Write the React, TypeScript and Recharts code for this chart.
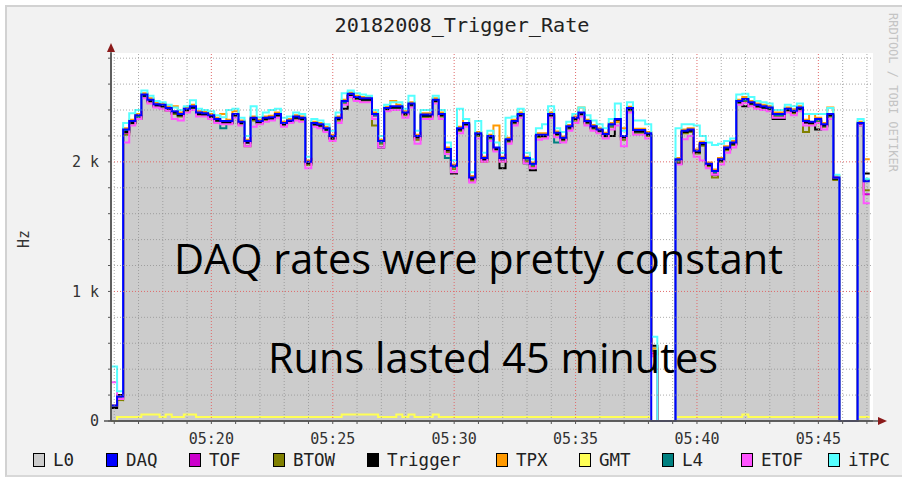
import React from "react";
import { ComposedChart, Area, Line, XAxis, YAxis, ReferenceLine, CartesianGrid } from "recharts";

// ---------- data (RRD samples, 15 s step) ----------
const startTime = "05:15:52";
const endTime = "05:47:15";
const stepSeconds = 15;

const l0 = [
  100, 150, 2250, 2315, 2360, 2520, 2480, 2445, 2440, 2415,
  2390, 2370, 2410, 2430, 2380, 2375, 2360, 2330, 2315, 2315,
  2370, 2310, 2160, 2340, 2315, 2340, 2345, 2370, 2300, 2320,
  2350, 2340, 2000, 2300, 2290, 2260, 2200, 2340, 2470, 2525,
  2500, 2490, 2490, 2370, 2160, 2415, 2430, 2430, 2380, 2450,
  2200, 2365, 2365, 2480, 2370, 2100, 1970, 2260, 2300, 1880,
  2220, 2030, 2200, 2110, 2030, 2175, 2315, 2370, 2030, 1985,
  2210, 2210, 2370, 2225, 2185, 2275, 2340, 2380, 2315, 2275,
  2250, 2215, 2290, 2330, 2200, 2415, 2245, 2245, 2220, 0,
  0, 0, 0, 2020, 2240, 2250, 2085, 2145, 1985, 1930,
  2020, 2110, 2150, 2470, 2485, 2460, 2440, 2430, 2420, 2370,
  2370, 2410, 2395, 2420, 2315, 2310, 2330, 2290, 2370, 1880,
  0, 0, 0, 2300, 1850, 1850,
];
const daq = [
  120, 190, 2250, 2315, 2360, 2520, 2480, 2445, 2440, 2415,
  2390, 2370, 2410, 2430, 2380, 2375, 2360, 2330, 2315, 2315,
  2370, 2310, 2160, 2340, 2315, 2340, 2345, 2370, 2300, 2320,
  2350, 2340, 2000, 2300, 2290, 2260, 2200, 2340, 2470, 2525,
  2500, 2490, 2490, 2370, 2160, 2415, 2430, 2430, 2380, 2450,
  2200, 2365, 2365, 2480, 2370, 2100, 1970, 2260, 2300, 1880,
  2220, 2030, 2200, 2110, 2030, 2175, 2315, 2370, 2030, 1985,
  2210, 2210, 2370, 2225, 2185, 2275, 2340, 2380, 2315, 2275,
  2250, 2215, 2290, 2330, 2200, 2415, 2245, 2245, 2220, 0,
  0, 0, 0, 2020, 2240, 2250, 2085, 2145, 1985, 1930,
  2020, 2110, 2150, 2470, 2485, 2460, 2440, 2430, 2420, 2370,
  2370, 2410, 2395, 2420, 2315, 2310, 2330, 2290, 2370, 1880,
  0, 0, 0, 2300, 1850, 1850,
];
const tof = [
  110, 170, 2220, 2300, 2345, 2505, 2465, 2430, 2425, 2400,
  2370, 2355, 2395, 2415, 2365, 2360, 2345, 2315, 2300, 2300,
  2355, 2295, 2145, 2325, 2300, 2325, 2330, 2355, 2285, 2305,
  2335, 2325, 1980, 2285, 2275, 2245, 2185, 2325, 2455, 2510,
  2485, 2475, 2475, 2355, 2145, 2400, 2415, 2415, 2365, 2435,
  2175, 2350, 2350, 2465, 2355, 2080, 1950, 2245, 2285, 1860,
  2205, 2015, 2185, 2095, 2015, 2160, 2300, 2355, 2015, 1970,
  2195, 2195, 2355, 2210, 2170, 2260, 2325, 2365, 2300, 2260,
  2235, 2200, 2275, 2315, 2175, 2400, 2230, 2230, 2205, 520,
  0, 0, 0, 2000, 2225, 2235, 2070, 2130, 1970, 1915,
  2005, 2095, 2135, 2455, 2470, 2445, 2425, 2415, 2405, 2355,
  2355, 2395, 2380, 2405, 2300, 2295, 2315, 2275, 2355, 1870,
  0, 0, 0, 2285, 1750, 1750,
];
const btow = [
  100, 160, 2210, 2295, 2340, 2500, 2460, 2425, 2420, 2395,
  2370, 2350, 2390, 2410, 2360, 2355, 2340, 2310, 2295, 2295,
  2350, 2290, 2120, 2320, 2295, 2320, 2325, 2350, 2280, 2300,
  2330, 2320, 1975, 2280, 2270, 2240, 2180, 2320, 2450, 2505,
  2480, 2470, 2470, 2280, 2140, 2395, 2410, 2410, 2360, 2430,
  2170, 2345, 2345, 2460, 2350, 2075, 1945, 2240, 2280, 1855,
  2200, 2000, 2180, 2090, 2000, 2155, 2295, 2350, 2005, 1960,
  2190, 2190, 2350, 2205, 2165, 2255, 2320, 2360, 2295, 2255,
  2230, 2195, 2270, 2310, 2170, 2395, 2225, 2225, 2200, 540,
  0, 0, 0, 1995, 2220, 2230, 2065, 2125, 1965, 1880,
  2000, 2090, 2130, 2450, 2465, 2440, 2420, 2410, 2400, 2350,
  2350, 2390, 2375, 2400, 2230, 2290, 2310, 2270, 2350, 1860,
  0, 0, 0, 2280, 1780, 1780,
];
const trigger = [
  100, 200, 2230, 2300, 2330, 2510, 2470, 2435, 2430, 2405,
  2380, 2360, 2400, 2420, 2370, 2365, 2350, 2320, 2300, 2300,
  2360, 2300, 2150, 2330, 2305, 2330, 2335, 2360, 2290, 2310,
  2340, 2330, 1990, 2290, 2280, 2250, 2180, 2330, 2410, 2510,
  2490, 2480, 2480, 2330, 2110, 2405, 2420, 2420, 2370, 2440,
  2190, 2355, 2355, 2470, 2360, 2090, 1910, 2250, 2290, 1870,
  2210, 2020, 2190, 2100, 1950, 2165, 2305, 2360, 1990, 1935,
  2200, 2200, 2360, 2215, 2175, 2265, 2330, 2370, 2305, 2265,
  2240, 2200, 2200, 2320, 2190, 2405, 2235, 2235, 2210, 580,
  0, 0, 0, 1985, 2230, 2240, 2075, 2135, 1975, 1900,
  2010, 2100, 2140, 2460, 2430, 2450, 2430, 2420, 2410, 2330,
  2330, 2400, 2385, 2410, 2305, 2300, 2250, 2280, 2360, 1870,
  0, 0, 0, 2290, 1910, 1910,
];
const tpx = [
  120, 190, 2260, 2325, 2370, 2530, 2490, 2455, 2450, 2430,
  2430, 2380, 2420, 2440, 2390, 2385, 2370, 2340, 2370, 2325,
  2390, 2320, 2170, 2350, 2325, 2350, 2355, 2380, 2310, 2330,
  2360, 2350, 2010, 2310, 2300, 2270, 2210, 2350, 2480, 2535,
  2510, 2500, 2500, 2380, 2170, 2425, 2470, 2440, 2390, 2460,
  2210, 2375, 2375, 2490, 2380, 2110, 1980, 2270, 2330, 1890,
  2230, 2040, 2210, 2280, 2040, 2185, 2325, 2380, 2040, 1995,
  2220, 2220, 2380, 2235, 2195, 2285, 2350, 2420, 2325, 2285,
  2260, 2225, 2300, 2310, 2260, 2425, 2255, 2255, 2230, 560,
  0, 0, 0, 2030, 2250, 2260, 2095, 2155, 1995, 1940,
  2030, 2120, 2160, 2480, 2500, 2470, 2450, 2440, 2430, 2380,
  2380, 2420, 2405, 2430, 2325, 2370, 2340, 2300, 2420, 1890,
  0, 0, 0, 2310, 2020, 2020,
];
const gmt = [
  0, 30, 30, 30, 30, 50, 50, 50, 30, 50,
  30, 30, 50, 50, 30, 30, 30, 30, 30, 30,
  30, 30, 30, 30, 30, 30, 30, 30, 30, 30,
  30, 30, 30, 30, 30, 30, 30, 30, 50, 50,
  50, 50, 50, 50, 30, 30, 30, 50, 30, 50,
  30, 30, 30, 50, 30, 30, 30, 30, 30, 30,
  30, 30, 30, 30, 30, 30, 30, 30, 30, 30,
  30, 30, 30, 30, 30, 30, 30, 30, 30, 30,
  30, 30, 30, 30, 30, 30, 30, 30, 30, 0,
  0, 0, 0, 30, 30, 30, 30, 30, 30, 30,
  30, 30, 30, 30, 50, 30, 30, 30, 30, 30,
  30, 30, 30, 30, 30, 30, 30, 30, 30, 30,
  0, 0, 0, 30, 30, 30,
];
const l4 = [
  110, 180, 2240, 2305, 2350, 2510, 2470, 2435, 2430, 2405,
  2380, 2360, 2400, 2420, 2370, 2365, 2350, 2320, 2260, 2305,
  2360, 2300, 2150, 2330, 2305, 2330, 2335, 2360, 2290, 2310,
  2340, 2330, 1990, 2290, 2280, 2250, 2190, 2330, 2460, 2515,
  2490, 2480, 2480, 2360, 2150, 2405, 2420, 2420, 2370, 2440,
  2190, 2355, 2355, 2470, 2360, 2030, 1960, 2250, 2290, 1870,
  2210, 2020, 2190, 2100, 2020, 2165, 2305, 2360, 2020, 1975,
  2200, 2200, 2360, 2150, 2175, 2265, 2330, 2370, 2305, 2265,
  2240, 2205, 2280, 2320, 2190, 2405, 2235, 2235, 2210, 560,
  0, 0, 0, 2010, 2230, 2240, 2075, 2135, 1975, 1920,
  2010, 2100, 2140, 2460, 2475, 2450, 2430, 2420, 2410, 2360,
  2360, 2400, 2385, 2410, 2305, 2300, 2320, 2280, 2360, 1870,
  0, 0, 0, 2290, 1860, 1860,
];
const etof = [
  300, 170, 2150, 2280, 2330, 2490, 2450, 2420, 2410, 2395,
  2330, 2320, 2380, 2400, 2350, 2350, 2330, 2300, 2290, 2290,
  2340, 2280, 2120, 2270, 2290, 2310, 2320, 2340, 2270, 2300,
  2320, 2310, 1950, 2270, 2260, 2230, 2160, 2300, 2440, 2500,
  2470, 2460, 2460, 2330, 2110, 2390, 2400, 2400, 2340, 2420,
  2140, 2330, 2330, 2450, 2330, 2060, 1920, 2220, 2270, 1840,
  2180, 2000, 2160, 2080, 2000, 2140, 2280, 2340, 1990, 1950,
  2170, 2180, 2340, 2190, 2150, 2240, 2300, 2350, 2280, 2240,
  2220, 2180, 2250, 2280, 2120, 2380, 2210, 2210, 2180, 500,
  0, 0, 0, 1980, 2175, 2200, 2040, 2010, 1950, 1900,
  1980, 2070, 2110, 2440, 2455, 2430, 2410, 2400, 2390, 2340,
  2340, 2380, 2360, 2390, 2280, 2280, 2300, 2250, 2330, 1880,
  0, 0, 0, 2280, 1680, 1680,
];
const itpc = [
  420, 230, 2300, 2375, 2400, 2550, 2510, 2470, 2460, 2440,
  2420, 2400, 2430, 2475, 2410, 2400, 2390, 2360, 2345, 2400,
  2410, 2340, 2200, 2430, 2345, 2380, 2400, 2410, 2340, 2350,
  2380, 2370, 2040, 2330, 2320, 2290, 2240, 2380, 2530, 2550,
  2530, 2520, 2510, 2400, 2200, 2440, 2460, 2460, 2410, 2510,
  2240, 2400, 2400, 2510, 2400, 2150, 2010, 2410, 2330, 1920,
  2315, 2070, 2240, 2150, 2070, 2340, 2350, 2410, 2070, 2020,
  2260, 2290, 2430, 2260, 2230, 2310, 2370, 2420, 2360, 2320,
  2290, 2260, 2330, 2450, 2240, 2460, 2320, 2320, 2290, 650,
  0, 0, 0, 2260, 2290, 2290, 2280, 2200, 2150, 2130,
  2140, 2160, 2180, 2520, 2525, 2500, 2470, 2460, 2450, 2400,
  2400, 2440, 2430, 2450, 2370, 2370, 2370, 2370, 2415, 1900,
  0, 0, 0, 2330, 1870, 1870,
];

const minuteTicks = [
  "05:16", "05:17", "05:18", "05:19", "05:20", "05:21", "05:22", "05:23", "05:24", "05:25", "05:26",
  "05:27", "05:28", "05:29", "05:30", "05:31", "05:32", "05:33", "05:34", "05:35", "05:36", "05:37",
  "05:38", "05:39", "05:40", "05:41", "05:42", "05:43", "05:44", "05:45", "05:46", "05:47",
];
const majorMinuteTicks = ["05:20", "05:25", "05:30", "05:35", "05:40", "05:45"];
const hzTicks = [0, 200, 400, 600, 800, 1000, 1200, 1400, 1600, 1800, 2000, 2200, 2400, 2600, 2800];
const hzMajorTicks = [0, 1000, 2000];
const hzTickLabels = ["0", "1 k", "2 k"];
const hzMax = 2840;

const seriesList = [
  { key: "l0", name: "L0", color: "#cccccc", values: l0 },
  { key: "daq", name: "DAQ", color: "#0000ff", values: daq },
  { key: "tof", name: "TOF", color: "#cc00cc", values: tof },
  { key: "btow", name: "BTOW", color: "#808000", values: btow },
  { key: "trigger", name: "Trigger", color: "#000000", values: trigger },
  { key: "tpx", name: "TPX", color: "#ff9900", values: tpx },
  { key: "gmt", name: "GMT", color: "#ffff55", values: gmt },
  { key: "l4", name: "L4", color: "#008080", values: l4 },
  { key: "etof", name: "ETOF", color: "#ff55ff", values: etof },
  { key: "itpc", name: "iTPC", color: "#55ffff", values: itpc },
];

// drawing order (later = on top)
const drawOrder = ["gmt", "tof", "btow", "l4", "trigger", "tpx", "etof", "itpc", "daq"];
const legendX = [33, 106, 189, 273, 367, 496, 579, 662, 741, 828];

// ---------- helpers ----------
const toSec = (s: string) => {
  const p = s.split(":").map(Number);
  return p[0] * 3600 + p[1] * 60 + (p[2] || 0);
};
const pad = (n: number) => (n < 10 ? "0" + n : "" + n);
const fmtTime = (sec: number) => pad(Math.floor(sec / 3600)) + ":" + pad(Math.floor((sec % 3600) / 60));

const t0 = toSec(startTime);
const rows = daq.map((_, i) => {
  const row: Record<string, number> = { t: t0 + i * stepSeconds };
  seriesList.forEach((s) => {
    row[s.key] = s.values[i];
  });
  return row;
});
const minuteSecs = minuteTicks.map(toSec);
const majorSecs = majorMinuteTicks.map(toSec);
const xDomain = [toSec(startTime), toSec(endTime)];

const MONO = "'DejaVu Sans Mono', monospace";
const CHART_MARGIN = { top: 53, right: 29, bottom: 30, left: 51 };
const MINOR_GRID = "#8f8f8f";
const MAJOR_GRID = "#e06a6a";

export default function App() {
  return (
    <div style={{ position: "absolute", left: 0, top: 0, width: 902, height: 481, background: "#ffffff", overflow: "hidden" }}>
      <div
        style={{
          position: "absolute",
          left: 5,
          top: 5,
          width: 902,
          height: 472,
          background: "#f2f2f2",
          borderTop: "2px solid #d2d2d2",
          borderLeft: "2px solid #d2d2d2",
          borderBottom: "2px solid #d8d8d8",
          boxSizing: "border-box",
        }}
      />
      {/* data layer */}
      <div style={{ position: "absolute", left: 0, top: 0 }}>
        <ComposedChart width={902} height={481} data={rows} margin={CHART_MARGIN}>
          <CartesianGrid fill="#ffffff" stroke="none" horizontal={false} vertical={false} />
          <XAxis
            dataKey="t"
            type="number"
            domain={xDomain}
            ticks={minuteSecs}
            interval={0}
            height={30}
            tickSize={3}
            tickMargin={9}
            tickFormatter={(v: number) => (majorSecs.includes(v) ? fmtTime(v) : "")}
            tick={{ fontFamily: MONO, fontSize: 15, fill: "#333333" }}
            axisLine={{ stroke: "#555555", strokeWidth: 1.5 }}
            tickLine={{ stroke: "#555555" }}
          />
          <YAxis
            type="number"
            domain={[0, hzMax]}
            ticks={hzTicks}
            interval={0}
            width={60}
            tickSize={3}
            tickMargin={9}
            tickFormatter={(v: number) => {
              const k = hzMajorTicks.indexOf(v);
              return k >= 0 ? hzTickLabels[k] : "";
            }}
            tick={{ fontFamily: MONO, fontSize: 15, fill: "#333333" }}
            axisLine={{ stroke: "#555555", strokeWidth: 1.5 }}
            tickLine={{ stroke: "#555555" }}
          />
          <Area
            type="stepAfter"
            dataKey="l0"
            fill="#cccccc"
            fillOpacity={1}
            stroke="none"
            isAnimationActive={false}
            dot={false}
            activeDot={false}
          />
          {drawOrder.map((k) => {
            const s = seriesList.find((x) => x.key === k)!;
            return (
              <Line
                key={k}
                type="stepAfter"
                dataKey={k}
                stroke={s.color}
                strokeWidth={2}
                dot={false}
                activeDot={false}
                isAnimationActive={false}
              />
            );
          })}
        </ComposedChart>
      </div>
      {/* grid layer drawn over the data, as RRDtool does */}
      <div style={{ position: "absolute", left: 0, top: 0, pointerEvents: "none" }}>
        <ComposedChart width={902} height={481} data={rows} margin={CHART_MARGIN}>
          <XAxis
            dataKey="t"
            type="number"
            domain={xDomain}
            ticks={minuteSecs}
            height={30}
            tick={false}
            tickLine={false}
            axisLine={false}
          />
          <YAxis type="number" domain={[0, hzMax]} ticks={hzTicks} width={60} tick={false} tickLine={false} axisLine={false} />
          <Line
            type="stepAfter"
            dataKey="daq"
            stroke="none"
            strokeOpacity={0}
            dot={false}
            activeDot={false}
            isAnimationActive={false}
            legendType="none"
          />
          {minuteSecs.map((v) => (
            <ReferenceLine
              key={"vx" + v}
              x={v}
              stroke={majorSecs.includes(v) ? MAJOR_GRID : MINOR_GRID}
              strokeOpacity={majorSecs.includes(v) ? 1 : 0.75}
              strokeDasharray="1 2"
              strokeWidth={1}
            />
          ))}
          {hzTicks.filter((v) => v > 0).map((v) => (
            <ReferenceLine
              key={"hy" + v}
              y={v}
              stroke={hzMajorTicks.includes(v) ? MAJOR_GRID : MINOR_GRID}
              strokeOpacity={hzMajorTicks.includes(v) ? 1 : 0.75}
              strokeDasharray="1 2"
              strokeWidth={1}
            />
          ))}
        </ComposedChart>
      </div>

      <svg width={902} height={481} style={{ position: "absolute", left: 0, top: 0, pointerEvents: "none" }}>
        <text x={462} y={32} textAnchor="middle" fontFamily={MONO} fontSize={19} fill="#222" textLength={255} lengthAdjust="spacingAndGlyphs">
          20182008_Trigger_Rate
        </text>
        <text transform="translate(29,239) rotate(-90)" textAnchor="middle" fontFamily={MONO} fontSize={15} fill="#333">
          Hz
        </text>
        <text transform="translate(889,13) rotate(90)" fontFamily={MONO} fontSize={12} fill="#c4c4c4">
          RRDTOOL / TOBI OETIKER
        </text>
        <line x1={111} y1={421} x2={111} y2={50} stroke="#555" strokeWidth={1.5} />
        <polygon points="111,43 107,52 115,52" fill="#8b1a1a" />
        <line x1={104} y1={421} x2={880} y2={421} stroke="#555" strokeWidth={1.5} />
        <polygon points="887,421 878,417 878,425" fill="#8b1a1a" />
        <text x={174} y={274} fontFamily="'Open Sans', sans-serif" fontSize={42} fill="#000" textLength={609} lengthAdjust="spacingAndGlyphs">
          DAQ rates were pretty constant
        </text>
        <text x={268} y={373} fontFamily="'Open Sans', sans-serif" fontSize={42} fill="#000" textLength={450} lengthAdjust="spacingAndGlyphs">
          Runs lasted 45 minutes
        </text>
      </svg>

      {seriesList.map((s, i) => (
        <div
          key={s.key}
          style={{ position: "absolute", left: legendX[i], top: 451, height: 18, display: "flex", alignItems: "center" }}
        >
          <div
            style={{
              width: 12,
              height: 14,
              background: s.color,
              border: "1.5px solid #000",
              boxSizing: "border-box",
              marginRight: 8,
            }}
          />
          <span style={{ fontFamily: MONO, fontSize: 17.5, color: "#222", lineHeight: "18px" }}>{s.name}</span>
        </div>
      ))}
    </div>
  );
}
